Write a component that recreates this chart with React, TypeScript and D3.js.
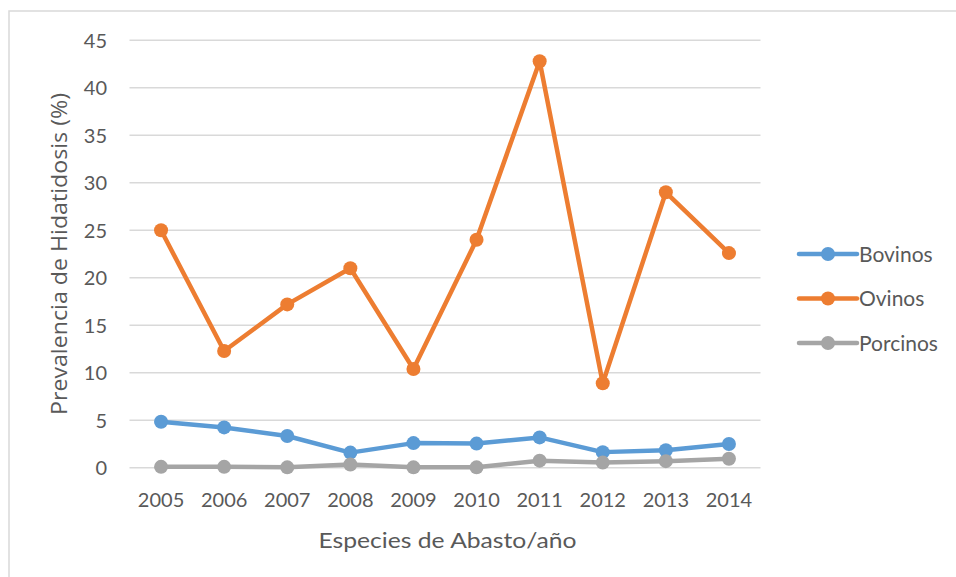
import React from "react";
import * as d3 from "d3";

const years = ["2005", "2006", "2007", "2008", "2009", "2010", "2011", "2012", "2013", "2014"];
const bovinos = [4.85, 4.25, 3.35, 1.6, 2.6, 2.55, 3.2, 1.65, 1.85, 2.5];
const ovinos = [25.0, 12.3, 17.2, 21.0, 10.4, 24.0, 42.8, 8.9, 29.0, 22.6];
const porcinos = [0.1, 0.1, 0.05, 0.35, 0.05, 0.05, 0.75, 0.55, 0.7, 0.95];
const yTicks = [0, 5, 10, 15, 20, 25, 30, 35, 40, 45];
const seriesNames = ["Bovinos", "Ovinos", "Porcinos"];
const seriesColors = ["#5B9BD5", "#ED7D31", "#A5A5A5"];
const seriesData = [bovinos, ovinos, porcinos];

const W = 956;
const H = 577;
const left = 129.5;
const right = 760.5;
const top = 40.3;
const bottom = 467.8;
const font = "Lato, 'Open Sans', sans-serif";
const textColor = "#595959";

export default function App() {
  const x = d3.scalePoint<string>().domain(years).range([left, right]).padding(0.5);
  const y = d3.scaleLinear().domain([0, 45]).range([bottom, top]);
  const line = d3
    .line<number>()
    .x((_, i) => x(years[i]) as number)
    .y((d) => y(d));

  return (
    <svg width={W} height={H} style={{ position: "absolute", left: 0, top: 0, background: "#fff" }}>
      <rect x={9} y={11} width={W} height={H} fill="#fff" stroke="#d9d9d9" strokeWidth={1.5} />
      {yTicks.map((t) => (
        <g key={t}>
          <line x1={left} x2={right} y1={y(t)} y2={y(t)} stroke="#d9d9d9" strokeWidth={1.5} />
          <text x={107} y={y(t)} dy="0.36em" textAnchor="end" fontFamily={font} fontSize={20} fill={textColor}>
            {t}
          </text>
        </g>
      ))}
      {years.map((yr) => (
        <text key={yr} x={x(yr)} y={507} textAnchor="middle" fontFamily={font} fontSize={20} fill={textColor}>
          {yr}
        </text>
      ))}
      <text
        x={447.5}
        y={547.5}
        textAnchor="middle"
        fontFamily={font}
        fontSize={22}
        fill={textColor}
        textLength={258}
        lengthAdjust="spacingAndGlyphs"
      >
        Especies de Abasto/año
      </text>
      <text
        transform={`translate(67, 254) rotate(-90)`}
        textAnchor="middle"
        fontFamily="'Open Sans', sans-serif"
        fontSize={22}
        fill={textColor}
        textLength={322}
        lengthAdjust="spacingAndGlyphs"
      >
        Prevalencia de Hidatidosis (%)
      </text>
      {seriesData.map((data, s) => (
        <g key={seriesNames[s]}>
          <path d={line(data) || ""} fill="none" stroke={seriesColors[s]} strokeWidth={4.5} strokeLinejoin="round" strokeLinecap="round" />
          {data.map((v, i) => (
            <circle key={i} cx={x(years[i])} cy={y(v)} r={7} fill={seriesColors[s]} />
          ))}
        </g>
      ))}
      {seriesNames.map((n, s) => {
        const ly = 254 + s * 44.5;
        return (
          <g key={n}>
            <line x1={799} x2={857} y1={ly} y2={ly} stroke={seriesColors[s]} strokeWidth={4.5} strokeLinecap="round" />
            <circle cx={828} cy={ly} r={7} fill={seriesColors[s]} />
            <text x={859} y={ly} dy="0.36em" fontFamily={font} fontSize={21} fill={textColor}>
              {n}
            </text>
          </g>
        );
      })}
    </svg>
  );
}
